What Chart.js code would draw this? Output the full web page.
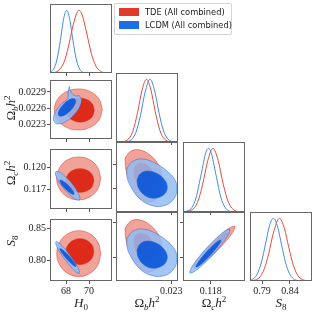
<!DOCTYPE html>
<html>
<head>
<meta charset="utf-8">
<script src="https://cdn.jsdelivr.net/npm/chart.js@4.4.1/dist/chart.umd.min.js"></script>
<style>
html, body { margin: 0; padding: 0; background: #fff; }
#fig { position: relative; width: 316px; height: 316px; overflow: hidden; }
#fig canvas { position: absolute; }
.t { position: absolute; font: 13px "Liberation Serif", "DejaVu Serif", serif; color: #222; line-height: 13px; white-space: nowrap; }
.t sub { font-size: 9px; vertical-align: -3px; line-height: 0; }
.t sup { font-size: 9px; vertical-align: 5px; line-height: 0; }
#legend { position: absolute; left: 114px; top: 3px; width: 116px; height: 30px; border: 1px solid #d4d4d4; border-radius: 2px; background: #fff; }
#legend .sw { position: absolute; left: 4px; width: 20px; height: 8px; }
#legend .lt { position: absolute; left: 30px; font: 8.3px "DejaVu Sans", sans-serif; color: #222; line-height: 8px; white-space: nowrap; }
</style>
</head>
<body>
<div id="fig"></div>
<script>
// series
const seriesNames = ['TDE (All combined)', 'LCDM (All combined)'];
const paramTitles = ['<i>H</i><sub>0</sub>', 'Ω<sub><i>b</i></sub><i>h</i><sup>2</sup>', 'Ω<sub><i>c</i></sub><i>h</i><sup>2</sup>', '<i>S</i><sub>8</sub>'];

// tick labels
const h0TickLabels = ['68', '70'];
const obTickLabelsX = ['0.023'];
const obTickLabelsY = ['0.0223', '0.0226', '0.0229'];
const ocTickLabelsX = ['0.118'];
const ocTickLabelsY = ['0.117', '0.120'];
const s8TickLabelsX = ['0.79', '0.84'];
const s8TickLabelsY = ['0.80', '0.85'];

// axis limits
const h0Lim = [66.6, 72.0];
const obLim = [0.02203, 0.02312];
const ocLim = [0.11424, 0.12264];
const s8LimX = [0.7683, 0.8797];
const s8LimY = [0.7670, 0.8657];

// 1D marginals (normalised to peak)
const h0X_tde = [66.6, 67.0, 67.4, 67.8, 68.2, 68.6, 69.0, 69.13, 69.4, 69.8, 70.2, 70.6, 71.0, 71.4, 71.8, 72.0];
const h0P_tde = [0.002, 0.010, 0.047, 0.164, 0.414, 0.751, 0.983, 1, 0.928, 0.633, 0.311, 0.110, 0.028, 0.005, 0.001, 0];
const h0X_lcdm = [66.6, 66.9, 67.2, 67.5, 67.8, 68.05, 68.3, 68.6, 68.9, 69.2, 69.5, 69.9, 70.5, 72.0];
const h0P_lcdm = [0.010, 0.057, 0.208, 0.518, 0.873, 1, 0.873, 0.518, 0.208, 0.057, 0.010, 0.001, 0, 0];

const obX_tde = [0.02203, 0.02215, 0.02225, 0.02233, 0.02241, 0.02249, 0.022566, 0.02264, 0.02272, 0.02280, 0.02288, 0.02298, 0.02312];
const obP_tde = [0, 0.005, 0.047, 0.183, 0.475, 0.835, 1, 0.845, 0.487, 0.188, 0.050, 0.005, 0];
const obX_lcdm = [0.02203, 0.02220, 0.02230, 0.02238, 0.02246, 0.02254, 0.022628, 0.02271, 0.02279, 0.02287, 0.02295, 0.02305, 0.02312];
const obP_lcdm = [0, 0.004, 0.038, 0.153, 0.423, 0.789, 1, 0.815, 0.449, 0.167, 0.042, 0.004, 0];

const ocX_tde = [0.11424, 0.11550, 0.11620, 0.11690, 0.11760, 0.11830, 0.11900, 0.11970, 0.12040, 0.12110, 0.12190, 0.12264];
const ocP_tde = [0.001, 0.035, 0.151, 0.432, 0.81, 1, 0.81, 0.432, 0.151, 0.035, 0.004, 0];
const ocX_lcdm = [0.11424, 0.11530, 0.11600, 0.11670, 0.11735, 0.117695, 0.11805, 0.11870, 0.11940, 0.12010, 0.12090, 0.12264];
const ocP_lcdm = [0.002, 0.049, 0.22, 0.594, 0.939, 1, 0.936, 0.588, 0.216, 0.048, 0.0045, 0];

const s8X_tde = [0.7683, 0.778, 0.786, 0.794, 0.802, 0.810, 0.8212, 0.830, 0.838, 0.846, 0.854, 0.862, 0.872, 0.8797];
const s8P_tde = [0.002, 0.016, 0.063, 0.194, 0.44, 0.755, 1, 0.842, 0.534, 0.255, 0.091, 0.025, 0.003, 0];
const s8X_lcdm = [0.7683, 0.775, 0.782, 0.789, 0.796, 0.803, 0.8104, 0.818, 0.825, 0.832, 0.839, 0.846, 0.855, 0.8797];
const s8P_lcdm = [0.010, 0.039, 0.125, 0.305, 0.583, 0.869, 1, 0.861, 0.576, 0.301, 0.12, 0.038, 0.006, 0];

// 2D contours, outer (95%) and inner (68%), [x, y] in data units
// H0 - Ombh2
const a_tde2 = [[71.16,0.022575],[70.88,0.022385],[70.12,0.022246],[69.07,0.022196],[68.02,0.022246],[67.26,0.022385],[66.98,0.022575],[67.26,0.022765],[68.02,0.022904],[69.07,0.022954],[70.12,0.022904],[70.88,0.022765]];
const a_tde1 = [[70.46,0.022562],[70.30,0.022451],[69.85,0.022371],[69.24,0.022341],[68.63,0.022371],[68.18,0.022451],[68.02,0.022562],[68.18,0.022673],[68.63,0.022753],[69.24,0.022783],[69.85,0.022753],[70.30,0.022673]];
const a_lcdm2 = [[69.17,0.022828],[69.34,0.022752],[69.19,0.022627],[68.75,0.02249],[68.14,0.022374],[67.53,0.022313],[67.08,0.022322],[66.90,0.022398],[67.06,0.022523],[67.50,0.02266],[68.11,0.022776],[68.20,0.022915],[68.28,0.023001],[68.37,0.022922],[68.72,0.022836]];
const a_lcdm1 = [[68.76,0.022772],[68.85,0.022727],[68.72,0.022651],[68.42,0.022565],[68.04,0.022493],[67.66,0.022453],[67.40,0.022456],[67.31,0.022502],[67.44,0.022578],[67.74,0.022663],[68.12,0.022736],[68.50,0.022776]];
// H0 - Omch2
const b_tde2 = [[71.02,0.118524],[70.76,0.117024],[70.06,0.115924],[69.10,0.115524],[68.14,0.115924],[67.44,0.117024],[67.18,0.118524],[67.44,0.120024],[68.14,0.121124],[69.10,0.121524],[70.06,0.121124],[70.76,0.120024]];
const b_tde1 = [[70.43,0.118224],[70.27,0.117396],[69.82,0.11679],[69.21,0.116568],[68.60,0.11679],[68.15,0.117396],[67.99,0.118224],[68.15,0.119052],[68.60,0.119658],[69.21,0.11988],[69.82,0.119658],[70.27,0.119052]];
const b_lcdm2 = [[69.16,0.115476],[69.20,0.115908],[68.96,0.116772],[68.50,0.117828],[67.94,0.118776],[67.44,0.119388],[67.12,0.119484],[67.08,0.119052],[67.32,0.118188],[67.78,0.117132],[68.34,0.116184],[68.85,0.115572]];
const b_lcdm1 = [[68.69,0.116274],[68.69,0.116508],[68.53,0.11694],[68.25,0.117468],[67.92,0.117948],[67.64,0.118236],[67.47,0.118278],[67.47,0.118044],[67.63,0.117612],[67.92,0.117084],[68.24,0.116604],[68.52,0.116316]];
// H0 - S8
const c_tde2 = [[71.03,0.8106],[70.77,0.7924],[70.07,0.7791],[69.11,0.7742],[68.15,0.7791],[67.45,0.7924],[67.19,0.8106],[67.45,0.8289],[68.15,0.8422],[69.11,0.8471],[70.07,0.8422],[70.77,0.8289]];
const c_tde1 = [[70.43,0.8138],[70.27,0.8036],[69.82,0.7961],[69.21,0.7933],[68.60,0.7961],[68.15,0.8036],[67.99,0.8138],[68.15,0.8240],[68.60,0.8315],[69.21,0.8342],[69.82,0.8315],[70.27,0.8240]];
const c_lcdm2 = [[69.16,0.7789],[69.15,0.7836],[68.87,0.7939],[68.39,0.8069],[67.85,0.8192],[67.39,0.8275],[67.12,0.8295],[67.13,0.8248],[67.41,0.8145],[67.89,0.8015],[68.43,0.7892],[68.89,0.7809]];
const c_lcdm1 = [[68.86,0.7899],[68.84,0.7928],[68.63,0.7986],[68.31,0.8060],[67.94,0.8129],[67.63,0.8175],[67.47,0.8185],[67.50,0.8157],[67.70,0.8098],[68.03,0.8024],[68.40,0.7955],[68.70,0.7909]];
// Ombh2 - Omch2
const d_tde2 = [[0.022188,0.12072],[0.022294,0.12156],[0.022452,0.12168],[0.022628,0.12108],[0.022768,0.12],[0.022839,0.11856],[0.022821,0.117],[0.022733,0.1158],[0.022575,0.11544],[0.022417,0.11616],[0.022294,0.1176],[0.022206,0.11928]];
const d_tde1 = [[0.022364,0.11976],[0.022452,0.12012],[0.022575,0.11988],[0.022663,0.11916],[0.022698,0.1182],[0.02268,0.11724],[0.022593,0.11676],[0.02247,0.11712],[0.022382,0.11796],[0.022346,0.11892]];
const d_lcdm2 = [[0.022223,0.11952],[0.022329,0.12036],[0.022505,0.1206],[0.022716,0.12012],[0.022927,0.11916],[0.023067,0.11808],[0.023102,0.11688],[0.023032,0.11568],[0.022856,0.11496],[0.022628,0.11508],[0.022434,0.11592],[0.022294,0.11724],[0.022223,0.11844]];
const d_lcdm1 = [[0.022399,0.11808],[0.022452,0.1188],[0.022575,0.11916],[0.022733,0.11892],[0.022856,0.11832],[0.022927,0.11748],[0.022909,0.11664],[0.022804,0.11604],[0.022645,0.11592],[0.022505,0.1164],[0.022417,0.11724]];
// Ombh2 - S8
const e_tde2 = [[0.022188,0.8428],[0.022294,0.8528],[0.022452,0.8543],[0.022628,0.8471],[0.022768,0.8342],[0.022839,0.8171],[0.022821,0.7985],[0.022733,0.7842],[0.022575,0.7799],[0.022417,0.7885],[0.022294,0.8056],[0.022206,0.8257]];
const e_tde1 = [[0.022364,0.8314],[0.022452,0.8357],[0.022575,0.8328],[0.022663,0.8242],[0.022698,0.8128],[0.02268,0.8014],[0.022593,0.7956],[0.02247,0.7999],[0.022382,0.8099],[0.022346,0.8214]];
const e_lcdm2 = [[0.022223,0.8285],[0.022329,0.8385],[0.022505,0.8414],[0.022716,0.8357],[0.022927,0.8242],[0.023067,0.8114],[0.023102,0.7971],[0.023032,0.7828],[0.022856,0.7742],[0.022628,0.7756],[0.022434,0.7856],[0.022294,0.8014],[0.022223,0.8157]];
const e_lcdm1 = [[0.022399,0.8114],[0.022452,0.8199],[0.022575,0.8242],[0.022733,0.8214],[0.022856,0.8142],[0.022927,0.8042],[0.022909,0.7942],[0.022804,0.7871],[0.022645,0.7856],[0.022505,0.7913],[0.022417,0.8014]];
// Omch2 - S8
const f_tde2 = [[0.121279,0.84565],[0.121126,0.83939],[0.120272,0.82676],[0.118945,0.81116],[0.1175,0.79676],[0.116327,0.78742],[0.115737,0.78565],[0.11589,0.79191],[0.116744,0.80454],[0.118072,0.82014],[0.119516,0.83454],[0.12069,0.84388]];
const f_tde1 = [[0.120335,0.83707],[0.120221,0.83324],[0.119667,0.82527],[0.11882,0.81531],[0.117908,0.806],[0.117175,0.79986],[0.116817,0.79852],[0.116931,0.80235],[0.117485,0.81032],[0.118332,0.82028],[0.119244,0.82959],[0.119977,0.83573]];
const f_lcdm2 = [[0.120607,0.84136],[0.12047,0.83498],[0.119644,0.8219],[0.11835,0.8056],[0.116934,0.79047],[0.115779,0.78056],[0.11519,0.7785],[0.115327,0.78488],[0.116153,0.79796],[0.117447,0.81426],[0.118863,0.82939],[0.120018,0.8393]];
const f_lcdm1 = [[0.119388,0.82567],[0.119286,0.82187],[0.118758,0.81392],[0.117945,0.80392],[0.117064,0.79459],[0.116354,0.78841],[0.116003,0.78704],[0.116104,0.79084],[0.116633,0.79879],[0.117446,0.80879],[0.118327,0.81812],[0.119037,0.8243]];

// colours
const red = { line: 'rgb(228,76,62)', outer: 'rgba(239,147,135,0.85)', inner: 'rgba(220,22,4,0.85)', edge: 'rgba(215,45,30,0.8)', key: '#e0392a' };
const blue = { line: 'rgb(64,138,232)', outer: 'rgba(147,188,243,0.85)', inner: 'rgba(0,80,216,0.85)', edge: 'rgba(30,100,215,0.8)', key: '#1c6fe2' };

// panel boxes in the figure (px)
const colPx = [[50, 112], [116, 178], [183, 245], [250, 312]];
const rowPx = [[4, 73], [73, 142], [142, 212], [212, 281]];
// centre of each rotated y title
const yTitleAt = [0, 108, 173, 241];

const xAxes = [
    { lim: h0Lim, labels: h0TickLabels },
    { lim: obLim, labels: obTickLabelsX },
    { lim: ocLim, labels: ocTickLabelsX },
    { lim: s8LimX, labels: s8TickLabelsX }
];
const yAxes = [null,
    { lim: obLim, labels: obTickLabelsY },
    { lim: ocLim, labels: ocTickLabelsY },
    { lim: s8LimY, labels: s8TickLabelsY }
];

const fig = document.getElementById('fig');

const frame = {
    id: 'frame',
    afterDraw(chart) {
        const { ctx, chartArea: a } = chart;
        ctx.save();
        ctx.strokeStyle = '#666';
        ctx.lineWidth = 1;
        ctx.strokeRect(a.left + 0.5, a.top + 0.5, a.right - a.left - 1, a.bottom - a.top - 1);
        ctx.restore();
    }
};

function axisOpts(ax, showLabels, dir, size) {
    return {
        type: 'linear', min: ax.lim[0], max: ax.lim[1],
        afterBuildTicks: s => { s.ticks = ax.labels.map(t => ({ value: parseFloat(t) })); },
        afterFit: s => { if (dir === 'x') s.height = size; else s.width = size; },
        border: { display: false },
        grid: { drawOnChartArea: false, drawTicks: true, tickLength: 3, tickColor: '#555', tickWidth: 1 },
        ticks: {
            display: showLabels, padding: 1, autoSkip: false, maxRotation: 0, color: '#222',
            font: { family: 'Liberation Serif', size: 10 },
            callback: (v, i) => ax.labels[i]
        }
    };
}

function curve(xs, ys, c) {
    return { data: xs.map((x, i) => ({ x, y: ys[i] })), borderColor: c.line, borderWidth: 1,
             pointRadius: 0, fill: false, cubicInterpolationMode: 'monotone' };
}

function region(pts, fillColor, edge) {
    const ring = pts.concat([pts[0]]);
    return { data: ring.map(([x, y]) => ({ x, y })), backgroundColor: fillColor, borderColor: edge,
             borderWidth: 0.6, pointRadius: 0, fill: 'shape', tension: 0.4 };
}

function addPanel(col, row, datasets) {
    const diag = col === row;
    const L = col === 0 ? 50 : 4, B = row === 3 ? 18 : 4, R = 18;
    const [x0, x1] = colPx[col], [y0, y1] = rowPx[row];
    const cv = document.createElement('canvas');
    cv.width = x1 - x0 + L + R;
    cv.height = y1 - y0 + B;
    cv.style.left = (x0 - L) + 'px';
    cv.style.top = y0 + 'px';
    fig.appendChild(cv);
    new Chart(cv, {
        type: 'line',
        data: { datasets },
        options: {
            responsive: false, animation: false,
            layout: { autoPadding: false, padding: { left: diag ? L : 0, right: R, top: 0, bottom: 0 } },
            plugins: { legend: { display: false }, tooltip: { enabled: false } },
            scales: {
                x: axisOpts(xAxes[col], row === 3, 'x', B),
                y: diag ? { type: 'linear', display: false, min: 0, max: 1.1 } : axisOpts(yAxes[row], col === 0, 'y', L)
            }
        },
        plugins: [frame]
    });
}

function pair(lcdm2, lcdm1, tde2, tde1) {
    // first dataset is drawn on top
    return [region(lcdm1, blue.inner, blue.edge), region(lcdm2, blue.outer, blue.edge),
            region(tde1, red.inner, red.edge), region(tde2, red.outer, red.edge)];
}

addPanel(0, 0, [curve(h0X_lcdm, h0P_lcdm, blue), curve(h0X_tde, h0P_tde, red)]);
addPanel(1, 1, [curve(obX_lcdm, obP_lcdm, blue), curve(obX_tde, obP_tde, red)]);
addPanel(2, 2, [curve(ocX_lcdm, ocP_lcdm, blue), curve(ocX_tde, ocP_tde, red)]);
addPanel(3, 3, [curve(s8X_lcdm, s8P_lcdm, blue), curve(s8X_tde, s8P_tde, red)]);
addPanel(0, 1, pair(a_lcdm2, a_lcdm1, a_tde2, a_tde1));
addPanel(0, 2, pair(b_lcdm2, b_lcdm1, b_tde2, b_tde1));
addPanel(0, 3, pair(c_lcdm2, c_lcdm1, c_tde2, c_tde1));
addPanel(1, 2, pair(d_lcdm2, d_lcdm1, d_tde2, d_tde1));
addPanel(1, 3, pair(e_lcdm2, e_lcdm1, e_tde2, e_tde1));
addPanel(2, 3, pair(f_lcdm2, f_lcdm1, f_tde2, f_tde1));

// axis titles
paramTitles.forEach((html, i) => {
    const d = document.createElement('div');
    d.className = 't';
    d.innerHTML = html;
    const cx = (colPx[i][0] + colPx[i][1]) / 2;
    d.style.left = cx + 'px';
    d.style.top = '302px';
    d.style.transform = 'translate(-50%,-50%)';
    fig.appendChild(d);
    if (i > 0) {
        const y = document.createElement('div');
        y.className = 't';
        y.innerHTML = html;
        y.style.left = '10px';
        y.style.top = yTitleAt[i] + 'px';
        y.style.transform = 'translate(-50%,-50%) rotate(-90deg)';
        fig.appendChild(y);
    }
});

// legend
const legend = document.createElement('div');
legend.id = 'legend';
[red, blue].forEach((c, i) => {
    const sw = document.createElement('div');
    sw.className = 'sw';
    sw.style.top = (4 + i * 13) + 'px';
    sw.style.background = c.key;
    legend.appendChild(sw);
    const lt = document.createElement('div');
    lt.className = 'lt';
    lt.style.top = (4 + i * 13) + 'px';
    lt.textContent = seriesNames[i];
    legend.appendChild(lt);
});
fig.appendChild(legend);
</script>
</body>
</html>
